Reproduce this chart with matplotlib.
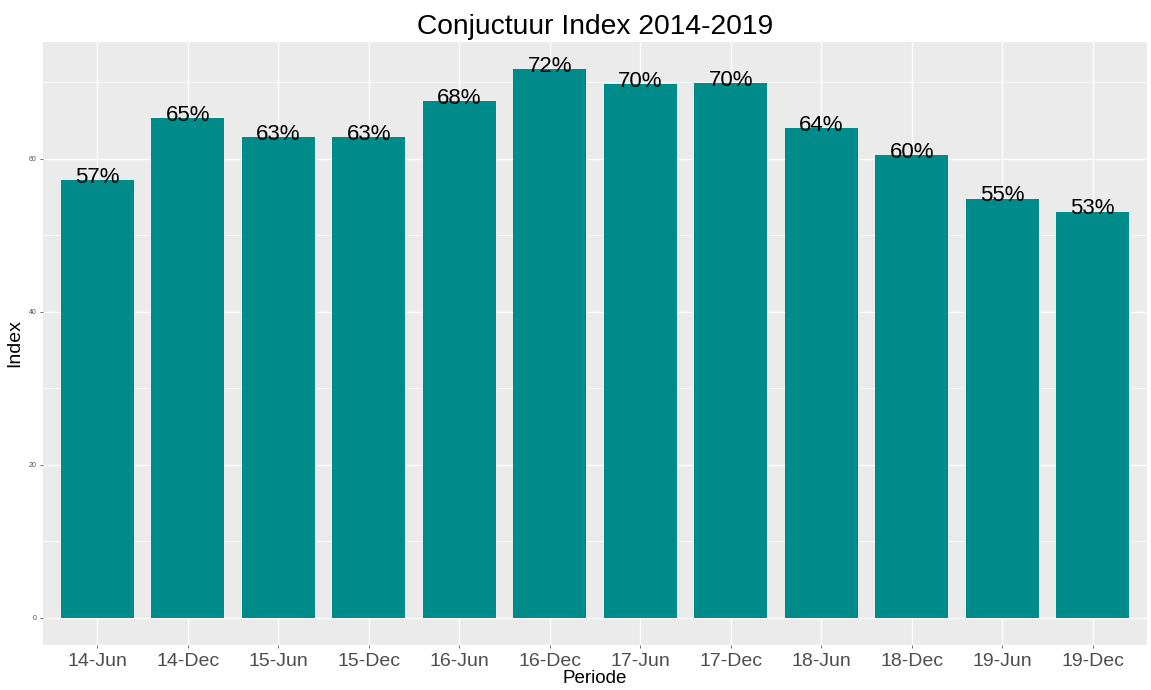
import matplotlib.pyplot as plt
import numpy as np

plt.rcParams['font.family'] = ['Liberation Sans', 'DejaVu Sans']

periods = ['14-Jun', '14-Dec', '15-Jun', '15-Dec', '16-Jun', '16-Dec',
           '17-Jun', '17-Dec', '18-Jun', '18-Dec', '19-Jun', '19-Dec']
index = [57.2, 65.3, 62.9, 62.9, 67.6, 71.7, 69.8, 69.9, 64.0, 60.5, 54.8, 53.1]
labels = ['57%', '65%', '63%', '63%', '68%', '72%',
          '70%', '70%', '64%', '60%', '55%', '53%']

fig = plt.figure(figsize=(11.51, 6.9), dpi=100)
ax = fig.add_axes([0.0374, 0.0652, 0.9591, 0.8738])
ax.set_facecolor('#EBEBEB')

x = np.arange(1, len(periods) + 1)
ax.bar(x, index, width=0.81, color='#008B8B', zorder=3)

# percent labels on top of the bars
for xi, v, lab in zip(x, index, labels):
    ax.annotate(lab, (xi, v), xytext=(0, -2), textcoords='offset points',
                ha='center', va='baseline', fontsize=16, color='black', zorder=4)

# grid like ggplot
ax.set_yticks([0, 20, 40, 60])
ax.set_yticks([10, 30, 50, 70], minor=True)
ax.set_xticks(x)
ax.set_xticklabels(periods)
ax.grid(which='major', color='white', linewidth=1.0, zorder=0)
ax.grid(which='minor', axis='y', color='white', linewidth=0.5, zorder=0)
ax.set_axisbelow(True)

ymax = max(index)
ax.set_ylim(-0.05 * ymax, ymax * 1.05)
ax.set_xlim(0.4, len(periods) + 0.6)

for s in ax.spines.values():
    s.set_visible(False)
ax.tick_params(axis='y', which='major', labelsize=5, labelcolor='#4D4D4D',
               color='#333333', length=2.5, width=0.5, pad=2)
ax.tick_params(axis='x', which='major', labelsize=14, labelcolor='#4D4D4D',
               color='#333333', length=2.5, width=0.5, pad=3)
ax.tick_params(which='minor', length=0)

ax.set_xlabel('Periode', fontsize=13.5, labelpad=0)
ax.set_ylabel('Index', fontsize=14, labelpad=4)
ax.set_title('Conjuctuur Index 2014-2019', fontsize=20.3, pad=6)

plt.savefig('out.png')
